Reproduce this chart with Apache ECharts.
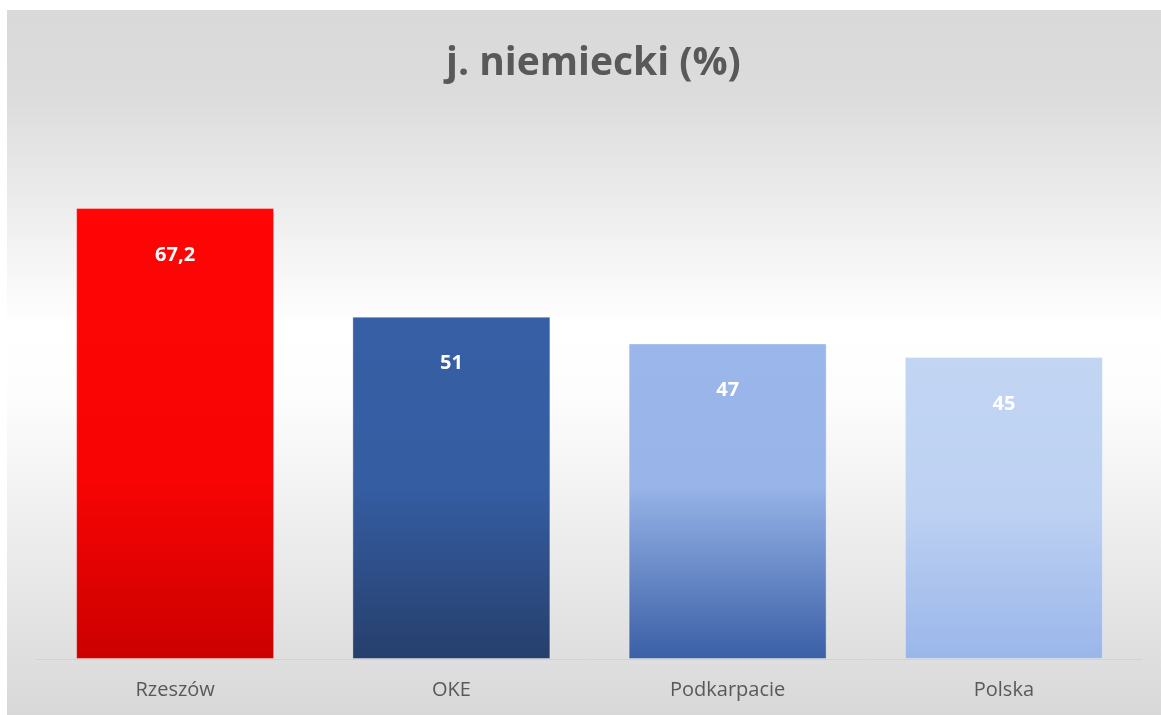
<!DOCTYPE html>
<html>
<head>
<meta charset="utf-8">
<script src="https://cdn.jsdelivr.net/npm/echarts@6/dist/echarts.min.js"></script>
<style>
  html, body { margin: 0; padding: 0; background: #ffffff; }
  #main { position: absolute; left: 7px; top: 10px; width: 1154px; height: 705px; }
</style>
</head>
<body>
<div id="main"></div>
<script>
var categories = ['Rzeszów', 'OKE', 'Podkarpacie', 'Polska'];
var values = [67.2, 51, 47, 45];
var labels = ['67,2', '51', '47', '45'];

// bar colour gradients, top -> bottom
var barColors = [
    [['0', '#ff0505'], ['0.6', '#f80404'], ['1', '#cc0000']],
    [['0', '#365fa5'], ['0.5', '#355da2'], ['1', '#263f6c']],
    [['0', '#9ab6ea'], ['0.45', '#98b4e8'], ['1', '#3a5fa6']],
    [['0', '#c2d5f3'], ['0.5', '#bdd1f2'], ['1', '#9ab6ea']]
];

function grad(stops) {
    return new echarts.graphic.LinearGradient(0, 0, 0, 1, stops.map(function (s) {
        return { offset: parseFloat(s[0]), color: s[1] };
    }));
}

var myChart = echarts.init(document.getElementById('main'));

var option = {
    backgroundColor: new echarts.graphic.LinearGradient(0, 0, 0, 1, [
        { offset: 0, color: '#d9d9d9' },
        { offset: 0.12, color: '#dcdcdc' },
        { offset: 0.45, color: '#ffffff' },
        { offset: 0.55, color: '#fdfdfd' },
        { offset: 1, color: '#d8d8d8' }
    ]),
    title: {
        text: 'j. niemiecki (%)',
        left: 434,
        top: 29,
        textStyle: {
            fontFamily: 'Open Sans',
            fontWeight: 'bold',
            fontSize: 39,
            color: '#595959'
        }
    },
    grid: {
        left: 30,
        right: 19,
        top: 112,
        bottom: 56
    },
    xAxis: {
        type: 'category',
        data: categories,
        axisLine: { lineStyle: { color: '#d2d2d2', width: 1 } },
        axisTick: { show: false },
        axisLabel: {
            margin: 21,
            fontFamily: 'Open Sans',
            fontSize: 20,
            color: '#595959'
        }
    },
    yAxis: {
        type: 'value',
        min: 0,
        max: 80,
        show: false,
        splitLine: { show: false }
    },
    series: [
        {
            type: 'bar',
            barWidth: 198,
            data: values.map(function (v, i) {
                return {
                    value: v,
                    itemStyle: {
                        color: grad(barColors[i]),
                        borderColor: 'rgba(255,255,255,0.35)',
                        borderWidth: 1
                    }
                };
            }),
            label: {
                show: true,
                position: 'insideTop',
                distance: 37,
                formatter: function (p) { return labels[p.dataIndex]; },
                fontFamily: 'Open Sans',
                fontWeight: 'bold',
                fontSize: 20,
                color: '#ffffff'
            }
        }
    ]
};

myChart.setOption(option);
</script>
</body>
</html>
